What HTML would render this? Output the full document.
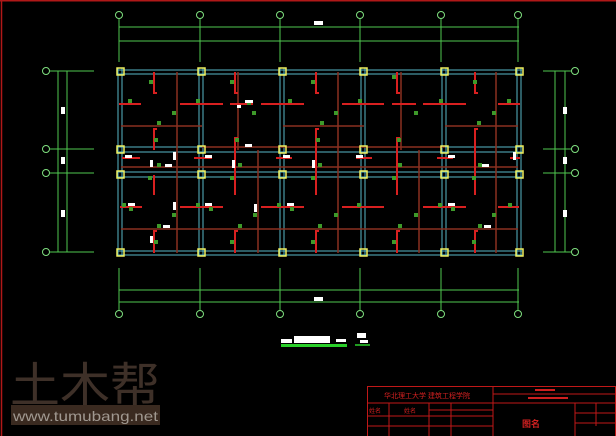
<!DOCTYPE html>
<html><head><meta charset="utf-8"><style>
html,body{margin:0;padding:0;background:#000;}
svg{display:block}
text{font-family:"Liberation Sans","Noto Sans CJK SC",sans-serif}
</style></head><body>
<svg width="616" height="436" viewBox="0 0 616 436" xmlns="http://www.w3.org/2000/svg">
<rect width="616" height="436" fill="#000"/>
<line x1="0" y1="0.5" x2="616" y2="0.5" stroke="#b01818" stroke-width="2"/>
<line x1="1.5" y1="0" x2="1.5" y2="436" stroke="#b01818" stroke-width="1.5"/>

<g stroke="#4fc84f" stroke-width="1" fill="none">
<line x1="119" y1="27" x2="519" y2="27"/><line x1="119" y1="41" x2="519" y2="41"/>
<line x1="119" y1="290" x2="519" y2="290"/><line x1="119" y1="302" x2="519" y2="302"/>
<line x1="119" y1="19" x2="119" y2="62"/><line x1="200" y1="19" x2="200" y2="62"/><line x1="280" y1="19" x2="280" y2="62"/><line x1="360" y1="19" x2="360" y2="62"/><line x1="441" y1="19" x2="441" y2="62"/><line x1="518" y1="19" x2="518" y2="62"/>
<line x1="119" y1="268" x2="119" y2="310"/><line x1="200" y1="268" x2="200" y2="310"/><line x1="280" y1="268" x2="280" y2="310"/><line x1="360" y1="268" x2="360" y2="310"/><line x1="441" y1="268" x2="441" y2="310"/><line x1="518" y1="268" x2="518" y2="310"/>
<line x1="50" y1="71" x2="94" y2="71"/><line x1="50" y1="149" x2="94" y2="149"/><line x1="50" y1="173" x2="94" y2="173"/><line x1="50" y1="252" x2="94" y2="252"/>
<line x1="58" y1="71" x2="58" y2="252"/><line x1="67" y1="71" x2="67" y2="252"/>
<line x1="543" y1="71" x2="571" y2="71"/><line x1="543" y1="149" x2="571" y2="149"/><line x1="543" y1="173" x2="571" y2="173"/><line x1="543" y1="252" x2="571" y2="252"/>
<line x1="555" y1="71" x2="555" y2="252"/><line x1="565" y1="71" x2="565" y2="252"/>
</g>
<g fill="none" stroke="#7fe07f" stroke-width="1">
<circle cx="119" cy="15" r="3.5"/><circle cx="200" cy="15" r="3.5"/><circle cx="280" cy="15" r="3.5"/><circle cx="360" cy="15" r="3.5"/><circle cx="441" cy="15" r="3.5"/><circle cx="518" cy="15" r="3.5"/>
<circle cx="119" cy="314" r="3.5"/><circle cx="200" cy="314" r="3.5"/><circle cx="280" cy="314" r="3.5"/><circle cx="360" cy="314" r="3.5"/><circle cx="441" cy="314" r="3.5"/><circle cx="518" cy="314" r="3.5"/>
<circle cx="46" cy="71" r="3.5"/><circle cx="46" cy="149" r="3.5"/><circle cx="46" cy="173" r="3.5"/><circle cx="46" cy="252" r="3.5"/>
<circle cx="575" cy="71" r="3.5"/><circle cx="575" cy="149" r="3.5"/><circle cx="575" cy="173" r="3.5"/><circle cx="575" cy="252" r="3.5"/>
</g>
<g fill="#fff">
<rect x="314" y="21" width="9" height="4"/><rect x="314" y="297" width="9" height="4"/>
<rect x="61" y="107" width="4" height="7"/><rect x="61" y="157" width="4" height="7"/><rect x="61" y="210" width="4" height="7"/>
<rect x="563" y="107" width="4" height="7"/><rect x="563" y="157" width="4" height="7"/><rect x="563" y="210" width="4" height="7"/>
</g>

<g stroke="#58b8c8" stroke-width="1" fill="none">
<line x1="117" y1="70" x2="522" y2="70"/><line x1="117" y1="74" x2="522" y2="74"/>
<line x1="117" y1="147" x2="522" y2="147"/><line x1="117" y1="152" x2="522" y2="152"/>
<line x1="117" y1="172" x2="522" y2="172"/><line x1="117" y1="177" x2="522" y2="177"/>
<line x1="117" y1="251" x2="522" y2="251"/><line x1="117" y1="255" x2="522" y2="255"/>
<line x1="118" y1="68" x2="118" y2="256"/><line x1="122" y1="68" x2="122" y2="256"/>
<line x1="199" y1="68" x2="199" y2="256"/><line x1="203" y1="68" x2="203" y2="256"/>
<line x1="280" y1="68" x2="280" y2="256"/><line x1="284" y1="68" x2="284" y2="256"/>
<line x1="361" y1="68" x2="361" y2="256"/><line x1="365" y1="68" x2="365" y2="256"/>
<line x1="442" y1="68" x2="442" y2="256"/><line x1="446" y1="68" x2="446" y2="256"/>
<line x1="517" y1="68" x2="517" y2="256"/><line x1="521" y1="68" x2="521" y2="256"/>
</g>

<g stroke="#8a3020" stroke-width="1.5" fill="none">
<line x1="121" y1="126" x2="202" y2="126"/><line x1="283" y1="126" x2="364" y2="126"/><line x1="445" y1="126" x2="518" y2="126"/>
<line x1="202" y1="147" x2="445" y2="147"/>
<line x1="121" y1="167" x2="518" y2="167"/>
<line x1="121" y1="229" x2="518" y2="229"/>
<line x1="177" y1="72" x2="177" y2="253"/><line x1="238" y1="72" x2="238" y2="150"/><line x1="338" y1="72" x2="338" y2="253"/><line x1="401" y1="72" x2="401" y2="150"/><line x1="496" y1="72" x2="496" y2="253"/>
<line x1="258" y1="150" x2="258" y2="253"/><line x1="419" y1="150" x2="419" y2="253"/>
</g>

<g stroke="#d82020" stroke-width="2" fill="none">
<polyline points="154,72 154,93 157,93"/><polyline points="235,72 235,93 238,93"/><polyline points="316,72 316,93 319,93"/><polyline points="397,72 397,93 400,93"/><polyline points="475,72 475,93 478,93"/>
<line x1="119" y1="104" x2="141" y2="104"/><line x1="180" y1="104" x2="223" y2="104"/><line x1="230" y1="104" x2="253" y2="104"/><line x1="261" y1="104" x2="304" y2="104"/><line x1="342" y1="104" x2="384" y2="104"/><line x1="392" y1="104" x2="416" y2="104"/><line x1="423" y1="104" x2="466" y2="104"/><line x1="498" y1="104" x2="520" y2="104"/>
<polyline points="157,129 154,129 154,150"/><polyline points="238,138 235,138 235,190"/><polyline points="319,129 316,129 316,195"/><polyline points="400,138 397,138 397,195"/><polyline points="478,129 475,129 475,195"/>
<line x1="154" y1="175" x2="154" y2="195"/><line x1="235" y1="175" x2="235" y2="195"/>
<line x1="120" y1="207" x2="142" y2="207"/><line x1="180" y1="207" x2="223" y2="207"/><line x1="261" y1="207" x2="304" y2="207"/><line x1="342" y1="207" x2="384" y2="207"/><line x1="423" y1="207" x2="466" y2="207"/><line x1="498" y1="207" x2="519" y2="207"/>
<polyline points="157,231 154,231 154,253"/><polyline points="238,231 235,231 235,253"/><polyline points="319,231 316,231 316,253"/><polyline points="400,231 397,231 397,253"/><polyline points="478,231 475,231 475,253"/>
<line x1="122" y1="158" x2="140" y2="158"/><line x1="194" y1="158" x2="212" y2="158"/><line x1="276" y1="158" x2="292" y2="158"/><line x1="356" y1="158" x2="372" y2="158"/><line x1="437" y1="158" x2="453" y2="158"/><line x1="510" y1="158" x2="520" y2="158"/>
</g>

<g fill="none" stroke="#f0f060" stroke-width="1.5">
<rect x="117" y="68" width="7" height="7"/><rect x="198" y="68" width="7" height="7"/><rect x="279" y="68" width="7" height="7"/><rect x="360" y="68" width="7" height="7"/><rect x="441" y="68" width="7" height="7"/><rect x="516" y="68" width="7" height="7"/>
<rect x="117" y="146" width="7" height="7"/><rect x="198" y="146" width="7" height="7"/><rect x="279" y="146" width="7" height="7"/><rect x="360" y="146" width="7" height="7"/><rect x="441" y="146" width="7" height="7"/><rect x="516" y="146" width="7" height="7"/>
<rect x="117" y="171" width="7" height="7"/><rect x="198" y="171" width="7" height="7"/><rect x="279" y="171" width="7" height="7"/><rect x="360" y="171" width="7" height="7"/><rect x="441" y="171" width="7" height="7"/><rect x="516" y="171" width="7" height="7"/>
<rect x="117" y="249" width="7" height="7"/><rect x="198" y="249" width="7" height="7"/><rect x="279" y="249" width="7" height="7"/><rect x="360" y="249" width="7" height="7"/><rect x="441" y="249" width="7" height="7"/><rect x="516" y="249" width="7" height="7"/>
</g>

<g fill="#3e9a2a">
<rect x="149" y="80" width="4" height="4"/><rect x="230" y="80" width="4" height="4"/><rect x="311" y="80" width="4" height="4"/><rect x="392" y="75" width="4" height="4"/><rect x="473" y="80" width="4" height="4"/>
<rect x="128" y="99" width="4" height="4"/><rect x="196" y="99" width="4" height="4"/><rect x="247" y="101" width="4" height="4"/><rect x="288" y="99" width="4" height="4"/><rect x="358" y="99" width="4" height="4"/><rect x="439" y="99" width="4" height="4"/><rect x="507" y="99" width="4" height="4"/>
<rect x="172" y="111" width="4" height="4"/><rect x="252" y="111" width="4" height="4"/><rect x="334" y="111" width="4" height="4"/><rect x="414" y="111" width="4" height="4"/><rect x="492" y="111" width="4" height="4"/>
<rect x="157" y="121" width="4" height="4"/><rect x="320" y="121" width="4" height="4"/><rect x="477" y="121" width="4" height="4"/>
<rect x="154" y="138" width="4" height="4"/><rect x="235" y="138" width="4" height="4"/><rect x="316" y="138" width="4" height="4"/><rect x="397" y="138" width="4" height="4"/>
<rect x="157" y="163" width="4" height="4"/><rect x="238" y="163" width="4" height="4"/><rect x="318" y="163" width="4" height="4"/><rect x="398" y="163" width="4" height="4"/><rect x="478" y="163" width="4" height="4"/>
<rect x="148" y="176" width="4" height="4"/><rect x="230" y="176" width="4" height="4"/><rect x="311" y="176" width="4" height="4"/><rect x="392" y="176" width="4" height="4"/><rect x="472" y="176" width="4" height="4"/>
<rect x="122" y="203" width="4" height="4"/><rect x="129" y="207" width="4" height="4"/><rect x="196" y="203" width="4" height="4"/><rect x="209" y="207" width="4" height="4"/><rect x="277" y="203" width="4" height="4"/><rect x="290" y="207" width="4" height="4"/><rect x="357" y="203" width="4" height="4"/><rect x="438" y="203" width="4" height="4"/><rect x="451" y="207" width="4" height="4"/><rect x="508" y="203" width="4" height="4"/>
<rect x="172" y="213" width="4" height="4"/><rect x="253" y="213" width="4" height="4"/><rect x="334" y="213" width="4" height="4"/><rect x="414" y="213" width="4" height="4"/><rect x="492" y="213" width="4" height="4"/>
<rect x="157" y="224" width="4" height="4"/><rect x="238" y="224" width="4" height="4"/><rect x="318" y="224" width="4" height="4"/><rect x="398" y="224" width="4" height="4"/><rect x="478" y="224" width="4" height="4"/>
<rect x="154" y="240" width="4" height="4"/><rect x="230" y="240" width="4" height="4"/><rect x="311" y="240" width="4" height="4"/><rect x="392" y="240" width="4" height="4"/><rect x="472" y="240" width="4" height="4"/>
</g>
<g fill="#fff">
<rect x="245" y="100" width="8" height="3"/><rect x="237" y="105" width="4" height="3"/>
<rect x="125" y="155" width="7" height="3"/><rect x="150" y="160" width="3" height="7"/><rect x="165" y="164" width="7" height="3"/><rect x="173" y="152" width="3" height="8"/>
<rect x="205" y="155" width="7" height="3"/><rect x="232" y="160" width="3" height="8"/><rect x="245" y="144" width="7" height="3"/>
<rect x="283" y="155" width="7" height="3"/><rect x="312" y="160" width="3" height="8"/><rect x="356" y="155" width="7" height="3"/><rect x="448" y="155" width="7" height="3"/><rect x="482" y="164" width="7" height="3"/><rect x="513" y="152" width="3" height="8"/>
<rect x="128" y="203" width="7" height="3"/><rect x="173" y="202" width="3" height="8"/><rect x="205" y="203" width="7" height="3"/><rect x="254" y="204" width="3" height="8"/><rect x="287" y="203" width="7" height="3"/>
<rect x="163" y="225" width="7" height="3"/><rect x="150" y="236" width="3" height="7"/><rect x="448" y="203" width="7" height="3"/><rect x="484" y="225" width="7" height="3"/>
</g>

<rect x="281" y="339" width="11" height="4" fill="#fff"/>
<rect x="294" y="336" width="36" height="7" fill="#fff"/>
<rect x="336" y="339" width="10" height="3" fill="#fff"/>
<rect x="281" y="344" width="66" height="3" fill="#2ad02a"/>
<rect x="357" y="333" width="9" height="5" fill="#fff"/>
<rect x="360" y="340" width="8" height="3" fill="#fff"/>
<line x1="355" y1="345" x2="370" y2="345" stroke="#2ad02a" stroke-width="1.5"/>

<text x="10" y="402" font-size="48" fill="#3e3028" font-family="'Noto Sans CJK SC',sans-serif" textLength="150" lengthAdjust="spacingAndGlyphs">土木帮</text>
<rect x="11" y="405" width="149" height="20" fill="#3a2a20"/>
<text x="13" y="421" font-size="14" fill="#a09890" font-family="'Liberation Mono',monospace" textLength="145" lengthAdjust="spacingAndGlyphs">www.tumubang.net</text>

<g stroke="#c01818" stroke-width="1" fill="none">
<rect x="367.5" y="386.5" width="248" height="50"/>
<line x1="493" y1="386" x2="493" y2="436"/>
<line x1="367" y1="403" x2="616" y2="403"/>
<line x1="493" y1="394" x2="616" y2="394"/>
<line x1="367" y1="416" x2="493" y2="416"/><line x1="367" y1="426" x2="493" y2="426"/>
<line x1="429" y1="410" x2="493" y2="410"/>
<line x1="389" y1="403" x2="389" y2="436"/><line x1="429" y1="403" x2="429" y2="436"/><line x1="451" y1="403" x2="451" y2="436"/>
<line x1="575" y1="403" x2="575" y2="436"/><line x1="596" y1="403" x2="596" y2="426"/>
<line x1="575" y1="413" x2="616" y2="413"/><line x1="575" y1="423" x2="616" y2="423"/>
</g>
<g fill="#d02020">
<text x="384" y="398" font-size="7">华北理工大学 建筑工程学院</text>
<text x="369" y="413" font-size="6">姓名</text><text x="404" y="413" font-size="6">姓名</text>
<text x="522" y="427" font-size="9" font-weight="bold">图名</text>
<rect x="535" y="389" width="20" height="2"/><rect x="528" y="397" width="40" height="2"/>
</g>
</svg>
</body></html>
